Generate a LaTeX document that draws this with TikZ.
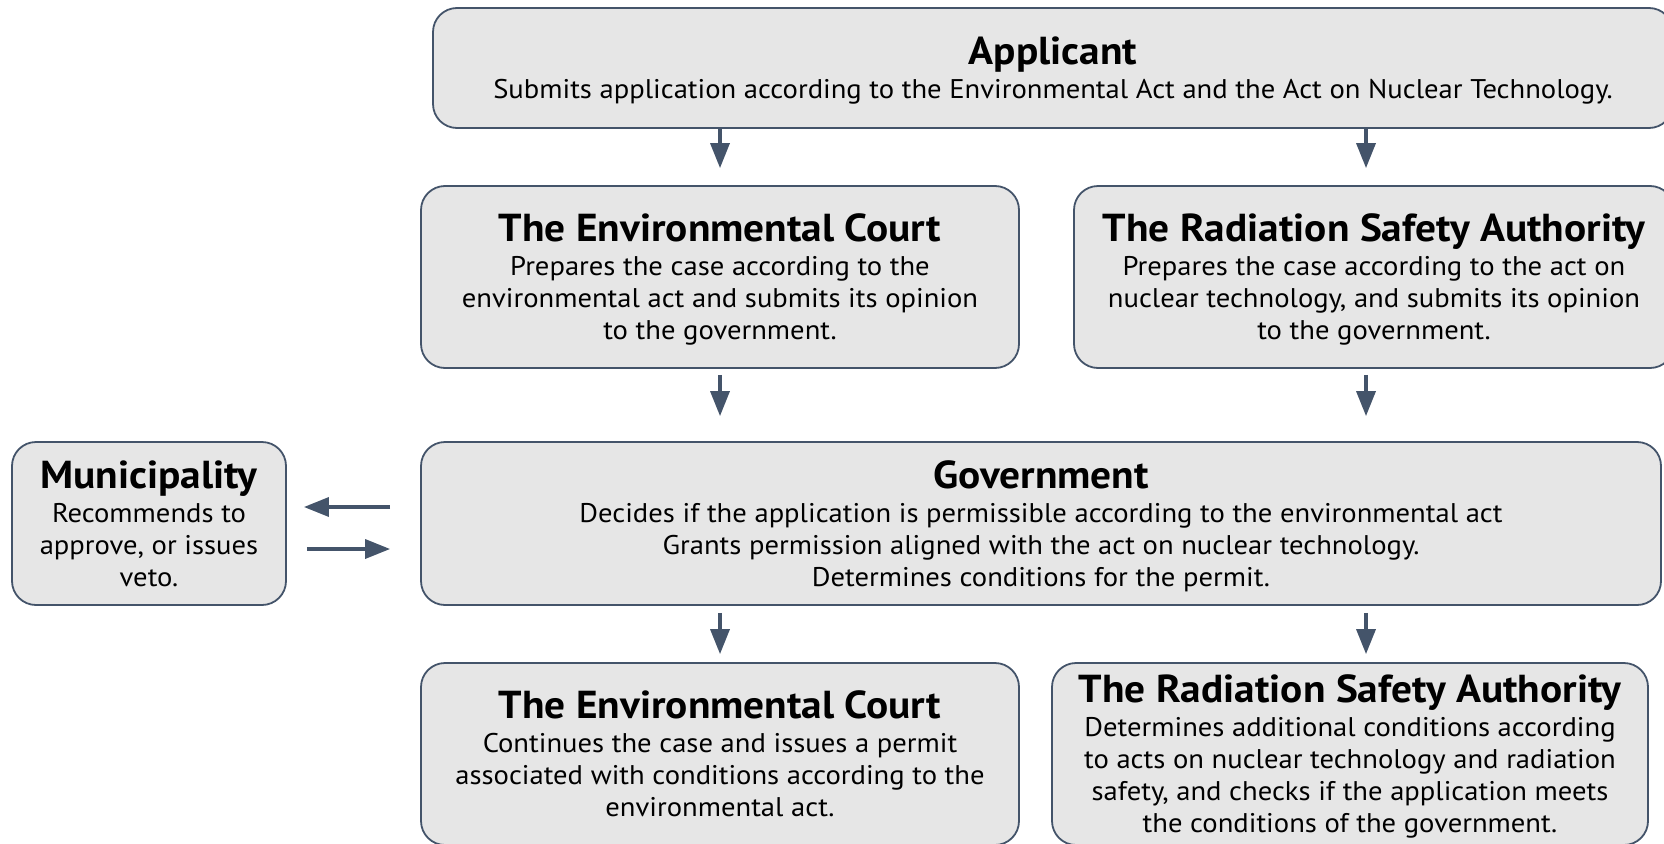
\documentclass[tikz,border=0pt]{standalone}
\usepackage{fontspec}
\setmainfont{PT Sans}[FakeStretch=1.06]
\usetikzlibrary{arrows.meta}
\definecolor{edge}{HTML}{44546A}
\definecolor{boxfill}{HTML}{E6E6E6}
\newcommand{\boxtitle}[1]{{\fontsize{39}{34}\selectfont\bfseries\rule{0pt}{0.88em}#1}\\[2pt]}
% keeps the last line as deep as a line with descenders
\newcommand{\lastline}{\rule[-6.4pt]{0pt}{1pt}}
\begin{document}
\begin{tikzpicture}[x=1pt,y=-1pt,
  card/.style={draw=edge, line width=1.8pt, fill=boxfill, rounded corners=24pt,
    align=center, inner sep=0pt, font=\fontsize{27}{32}\selectfont},
  flow/.style={draw=edge, line width=3.5pt,
    -{Triangle[length=25pt,width=19pt]}}
]
\useasboundingbox (0,0) rectangle (1664,843);
\clip (0,0) rectangle (1664,843);

% boxes
\node[card, minimum width=1240pt, minimum height=120pt] (app) at (1053,68)
  {\boxtitle{Applicant}Submits application according to the Environmental Act and the Act on Nuclear Technology.\lastline};
\node[card, minimum width=598pt, minimum height=182pt] (ec1) at (720,277)
  {\boxtitle{The Environmental Court}Prepares the case according to the\\environmental act and submits its opinion\\to the government.\lastline};
\node[card, minimum width=600pt, minimum height=182pt] (rsa1) at (1374,277)
  {\boxtitle{The Radiation Safety Authority}Prepares the case according to the act on\\nuclear technology, and submits its opinion\\to the government.\lastline};
\node[card, minimum width=1240pt, minimum height=163pt] (gov) at (1041,523.5)
  {\boxtitle{Government}Decides if the application is permissible according to the environmental act\\Grants permission aligned with the act on nuclear technology.\\Determines conditions for the permit.\lastline};
\node[card, minimum width=274pt, minimum height=163pt] (muni) at (149,523.5)
  {\boxtitle{Municipality}Recommends to\\approve, or issues\\veto.\lastline};
\node[card, minimum width=598pt, minimum height=182pt] (ec2) at (720,754)
  {\boxtitle{The Environmental Court}Continues the case and issues a permit\\associated with conditions according to the\\environmental act.\lastline};
\node[card, minimum width=596pt, minimum height=182pt] (rsa2) at (1350,754)
  {\boxtitle{The Radiation Safety Authority}Determines additional conditions according\\to acts on nuclear technology and radiation\\safety, and checks if the application meets\\the conditions of the government.\lastline};

% arrow columns
\coordinate (colL) at (720,0);
\coordinate (colR) at (1366,0);
\coordinate (rowA) at (0,507);
\coordinate (rowB) at (0,549);

% connectors
\draw[flow, shorten >=17pt] (app.south -| colL) -- (ec1.north -| colL);
\draw[flow, shorten >=17pt] (app.south -| colR) -- (rsa1.north -| colR);
\draw[flow, shorten <=6pt, shorten >=25pt] (ec1.south -| colL) -- (gov.north -| colL);
\draw[flow, shorten <=6pt, shorten >=25pt] (rsa1.south -| colR) -- (gov.north -| colR);
\draw[flow, shorten <=7pt, shorten >=8pt] (gov.south -| colL) -- (ec2.north -| colL);
\draw[flow, shorten <=7pt, shorten >=8pt] (gov.south -| colR) -- (rsa2.north -| colR);
\draw[flow, shorten <=30pt, shorten >=17pt] (gov.west |- rowA) -- (muni.east |- rowA);
\draw[flow, shorten <=20pt, shorten >=30pt] (muni.east |- rowB) -- (gov.west |- rowB);
\end{tikzpicture}
\end{document}
